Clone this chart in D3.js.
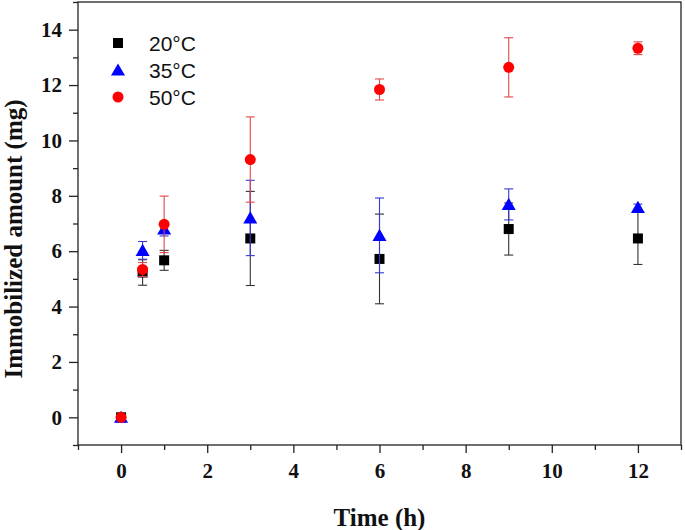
<!DOCTYPE html>
<html><head><meta charset="utf-8">
<script src="https://cdn.jsdelivr.net/npm/d3@7"></script>
<style>body{margin:0;background:#fff}svg{display:block}</style>
</head><body><svg id="c" width="685" height="530"></svg>
<script>
const times = [0, 0.5, 1, 3, 6, 9, 12];
const s20 = [0, 5.23, 5.67, 6.46, 5.72, 6.80, 6.46];
const e20 = [0, 0.46, 0.36, 1.70, 1.62, 0.94, 0.94];
const s35 = [0, 6.03, 6.80, 7.20, 6.57, 7.69, 7.58];
const e35 = [0, 0.32, 0.25, 1.36, 1.35, 0.56, 0.12];
const s50 = [0, 5.34, 6.97, 9.31, 11.84, 12.64, 13.33];
const e50 = [0, 0.25, 1.02, 1.54, 0.38, 1.07, 0.23];
const seriesNames = ["20°C", "35°C", "50°C"];
const xMajor = [0, 2, 4, 6, 8, 10, 12];
const xMinor = [-1, 1, 3, 5, 7, 9, 11, 13];
const yMajor = [0, 2, 4, 6, 8, 10, 12, 14];
const yMinor = [-1, 1, 3, 5, 7, 9, 11, 13, 15];

const W = 685, H = 530;
const m = {l: 78, r: 4, t: 2, b: 85};
const svg = d3.select("#c");
const x = d3.scaleLinear().domain([-1, 13]).range([m.l, W - m.r]);
const y = d3.scaleLinear().domain([-1, 15]).range([H - m.b, m.t]);

const series = [
  {name: seriesNames[0], vals: s20, errs: e20, color: "#000", bar: "#333", shape: d3.symbolSquare, size: 100},
  {name: seriesNames[1], vals: s35, errs: e35, color: "#0000ff", bar: "#3a3ad0", shape: d3.symbolTriangle, size: 85},
  {name: seriesNames[2], vals: s50, errs: e50, color: "#ff0000", bar: "#e04848", shape: d3.symbolCircle, size: 95}
];

const tickFont = "'Liberation Serif','Times New Roman',serif";

// axes
const gx = svg.append("g").attr("transform", `translate(0,${H - m.b})`);
gx.call(d3.axisBottom(x).tickValues(xMajor).tickSize(8).tickPadding(10).tickFormat(d3.format("d")));
const gxm = svg.append("g").attr("transform", `translate(0,${H - m.b})`);
gxm.call(d3.axisBottom(x).tickValues(xMinor).tickSize(5).tickFormat(""));
const gy = svg.append("g").attr("transform", `translate(${m.l},0)`);
gy.call(d3.axisLeft(y).tickValues(yMajor).tickSize(9).tickPadding(7).tickFormat(d3.format("d")));
const gym = svg.append("g").attr("transform", `translate(${m.l},0)`);
gym.call(d3.axisLeft(y).tickValues(yMinor).tickSize(5).tickFormat(""));
[gx, gxm, gy, gym].forEach(g => {
  g.select(".domain").remove();
  g.selectAll("line").attr("stroke", "#222").attr("stroke-width", 1.3);
  g.selectAll("text").attr("font-family", tickFont).attr("font-weight", "bold")
    .attr("font-size", 21).attr("fill", "#111");
});

// frame
svg.append("rect").attr("x", m.l).attr("y", m.t)
  .attr("width", W - m.r - m.l).attr("height", H - m.b - m.t)
  .attr("fill", "none").attr("stroke", "#222").attr("stroke-width", 1.3);

// axis titles
svg.append("text").attr("x", (m.l + W - m.r) / 2).attr("y", 526)
  .attr("text-anchor", "middle").attr("font-family", tickFont).attr("font-weight", "bold")
  .attr("font-size", 25).attr("fill", "#111").text("Time (h)");
svg.append("text").attr("transform", `translate(22,239) rotate(-90)`)
  .attr("text-anchor", "middle").attr("font-family", tickFont).attr("font-weight", "bold")
  .attr("font-size", 25).attr("fill", "#111").text("Immobilized amount (mg)");

// data
series.forEach(s => {
  const g = svg.append("g");
  const pts = times.map((t, i) => ({t, v: s.vals[i], e: s.errs[i]}));
  const eb = g.selectAll(".eb").data(pts.filter(p => p.e > 0)).join("g")
    .attr("stroke", s.bar).attr("stroke-width", 1.1);
  eb.append("line").attr("x1", p => x(p.t)).attr("x2", p => x(p.t))
    .attr("y1", p => y(p.v - p.e)).attr("y2", p => y(p.v + p.e));
  [-1, 1].forEach(sg => {
    eb.append("line").attr("x1", p => x(p.t) - 4.5).attr("x2", p => x(p.t) + 4.5)
      .attr("y1", p => y(p.v + sg * p.e)).attr("y2", p => y(p.v + sg * p.e));
  });
  g.selectAll(".pt").data(pts).join("path")
    .attr("transform", p => `translate(${x(p.t)},${y(p.v) + (s.shape === d3.symbolTriangle ? 1.5 : 0)})`)
    .attr("d", d3.symbol().type(s.shape).size(s.size)).attr("fill", s.color);
});

// legend
const lg = svg.append("g");
series.forEach((s, i) => {
  const ly = 43 + i * 27;
  lg.append("path").attr("transform", `translate(118,${ly + (s.shape === d3.symbolTriangle ? 1.5 : 0)})`)
    .attr("d", d3.symbol().type(s.shape).size(s.size)).attr("fill", s.color);
  lg.append("text").attr("x", 149).attr("y", ly + 8)
    .attr("font-family", "'Liberation Sans',Arial,sans-serif").attr("font-size", 21)
    .attr("fill", "#111").text(s.name);
});
</script></body></html>
